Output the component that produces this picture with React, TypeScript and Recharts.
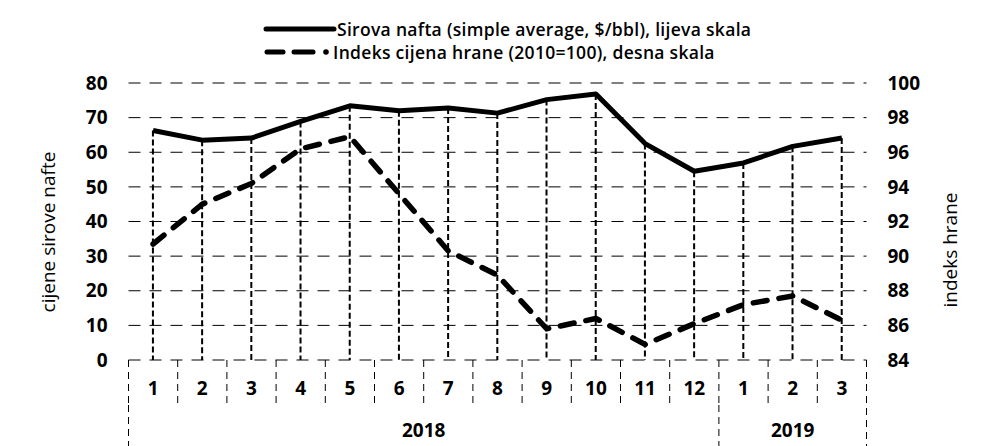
import React from 'react';
import { ComposedChart, Line, Bar, XAxis, YAxis, CartesianGrid } from 'recharts';

const months = ['1', '2', '3', '4', '5', '6', '7', '8', '9', '10', '11', '12', '1', '2', '3'];
const years = ['2018', '2018', '2018', '2018', '2018', '2018', '2018', '2018', '2018', '2018', '2018', '2018', '2019', '2019', '2019'];
const oilPrice = [66.3, 63.5, 64.1, 68.9, 73.4, 72.0, 72.8, 71.3, 75.2, 76.8, 62.5, 54.5, 56.9, 61.7, 64.1];
const foodIndex = [90.7, 93.0, 94.2, 96.2, 96.9, 93.6, 90.3, 88.9, 85.8, 86.4, 84.9, 86.1, 87.2, 87.7, 86.3];
const leftTicks = [0, 10, 20, 30, 40, 50, 60, 70, 80];
const rightTicks = [84, 86, 88, 90, 92, 94, 96, 98, 100];

const data = months.map((m, i) => ({
  idx: i,
  month: m,
  year: years[i],
  oil: oilPrice[i],
  food: foodIndex[i],
}));

const W = 989;
const H = 446;
const PLOT_LEFT = 128.5;
const PLOT_RIGHT = 866.5;
const BAND = (PLOT_RIGHT - PLOT_LEFT) / months.length;
const FONT = '"Open Sans", sans-serif';

const tickStyle = { fontFamily: FONT, fontSize: 19, fontWeight: 700, fill: '#000' };

function MonthTick(props: any) {
  const { x, y, payload } = props;
  const i = payload.index;
  return (
    <g>
      <text x={x} y={y + 28} textAnchor="middle" dominantBaseline="central" style={tickStyle}>
        {months[i]}
      </text>
      <line x1={x - BAND / 2} x2={x - BAND / 2} y1={y} y2={y + 45} stroke="#000" strokeWidth={1} strokeDasharray="7 5" />
    </g>
  );
}

function YearTick(props: any) {
  const { x, y, payload } = props;
  const i = payload.index;
  const start = i === 0 || years[i] !== years[i - 1];
  const last = i === years.length - 1;
  let count = 0;
  if (start) {
    let j = i;
    while (j < years.length && years[j] === years[i]) { count++; j++; }
  }
  return (
    <g>
      {start && (
        <text x={x + ((count - 1) * BAND) / 2} y={y + 25} textAnchor="middle" dominantBaseline="central" style={tickStyle}>
          {years[i]}
        </text>
      )}
      {start && <line x1={x - BAND / 2} x2={x - BAND / 2} y1={y} y2={y + 41} stroke="#000" strokeWidth={1} strokeDasharray="7 5" />}
      {last && <line x1={x + BAND / 2} x2={x + BAND / 2} y1={y - 45} y2={y + 41} stroke="#000" strokeWidth={1} strokeDasharray="7 5" />}
    </g>
  );
}

function DropLine(props: any) {
  const { x, y, width, height } = props;
  const cx = x + width / 2;
  return <line x1={cx} x2={cx} y1={y} y2={y + height} stroke="#000" strokeWidth={2} strokeDasharray="6 3" />;
}

function LegendBox() {
  const text = {
    fontFamily: FONT, fontSize: 17.5, fontWeight: 600, color: '#000', letterSpacing: '0.3px',
    whiteSpace: 'nowrap' as const, lineHeight: '20px', display: 'block',
  };
  return (
    <div style={{ position: 'absolute', left: 263, top: 17 }}>
      <div style={{ display: 'flex', alignItems: 'center', height: 23 }}>
        <svg width={74} height={10}>
          <line x1={3} x2={71} y1={5} y2={5} stroke="#000" strokeWidth={5} strokeLinecap="round" />
        </svg>
        <span style={text}>Sirova nafta (simple average, $/bbl), lijeva skala</span>
      </div>
      <div style={{ display: 'flex', alignItems: 'center', height: 23 }}>
        <svg width={70} height={10}>
          <line x1={4} x2={20} y1={5} y2={5} stroke="#000" strokeWidth={5} strokeLinecap="round" />
          <line x1={31} x2={50} y1={5} y2={5} stroke="#000" strokeWidth={5} strokeLinecap="round" />
          <circle cx={63} cy={5} r={2.8} fill="#000" />
        </svg>
        <span style={text}>Indeks cijena hrane (2010=100), desna skala</span>
      </div>
    </div>
  );
}

export default function App() {
  return (
    <div style={{ position: 'absolute', left: 0, top: 0, width: W, height: H, background: '#fff' }}>
      <LegendBox />
      <div
        style={{
          position: 'absolute', left: 48, top: 232, transform: 'translate(-50%, -50%) rotate(-90deg)',
          fontFamily: FONT, fontSize: 19, fontWeight: 500, color: '#000', whiteSpace: 'nowrap',
        }}
      >
        cijene sirove nafte
      </div>
      <div
        style={{
          position: 'absolute', left: 950, top: 250, transform: 'translate(-50%, -50%) rotate(-90deg)',
          fontFamily: FONT, fontSize: 19, fontWeight: 500, color: '#000', whiteSpace: 'nowrap',
        }}
      >
        indeks hrane
      </div>
      <ComposedChart width={W} height={H} data={data} margin={{ top: 83, right: 0, bottom: 0, left: 0 }}>
        <CartesianGrid yAxisId="left" vertical={false} stroke="#000" strokeWidth={1} strokeDasharray="12 9" />
        <XAxis dataKey="idx" height={45} axisLine={false} tickLine={false} tickSize={0} tickMargin={0} interval={0} tick={<MonthTick />} />
        <XAxis xAxisId="year" dataKey="idx" height={41} axisLine={false} tickLine={false} tickSize={0} tickMargin={0} interval={0} tick={<YearTick />} />
        <YAxis
          yAxisId="left"
          orientation="left"
          width={PLOT_LEFT}
          domain={[0, 80]}
          ticks={leftTicks}
          axisLine={false}
          tickLine={false}
          tickSize={0}
          tickMargin={21}
          tick={tickStyle}
        />
        <YAxis
          yAxisId="right"
          orientation="right"
          width={W - PLOT_RIGHT}
          domain={[84, 100]}
          ticks={rightTicks}
          axisLine={false}
          tickLine={false}
          tickSize={0}
          tickMargin={21}
          tick={tickStyle}
        />
        <Bar yAxisId="left" dataKey="oil" shape={<DropLine />} isAnimationActive={false} />
        <Line
          yAxisId="right"
          dataKey="food"
          stroke="#000"
          strokeWidth={5.5}
          strokeDasharray="14 12"
          strokeLinecap="round"
          dot={false}
          activeDot={false}
          isAnimationActive={false}
        />
        <Line
          yAxisId="left"
          dataKey="oil"
          stroke="#000"
          strokeWidth={5}
          strokeLinejoin="round"
          dot={false}
          activeDot={false}
          isAnimationActive={false}
        />
      </ComposedChart>
    </div>
  );
}
